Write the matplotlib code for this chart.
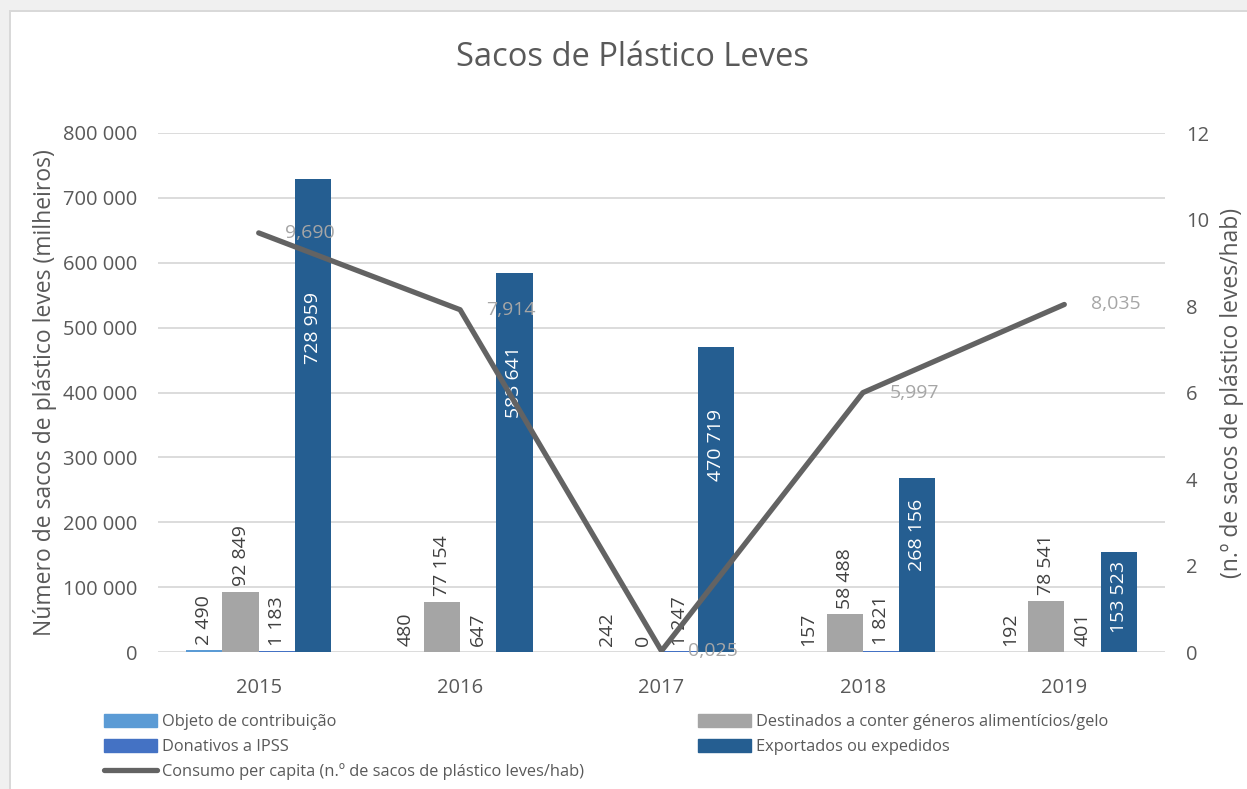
import numpy as np
import matplotlib
matplotlib.use("Agg")
import matplotlib.pyplot as plt
from matplotlib.patches import Rectangle
from matplotlib.lines import Line2D
from matplotlib.ticker import FuncFormatter

plt.rcParams["font.family"] = ["Open Sans", "DejaVu Sans"]

# data
years = ["2015", "2016", "2017", "2018", "2019"]
objeto = [2490, 480, 242, 157, 192]
destinados = [92849, 77154, 0, 58488, 78541]
donativos = [1183, 647, 1247, 1821, 401]
exportados = [728959, 583641, 470719, 268156, 153523]
consumo = [9.690, 7.914, 0.025, 5.997, 8.035]

# where Excel put the labels inside the dark bars (centre, axis units)
exp_label_at = [499000, 416000, 319000, 180000, 85000]

series = [
    ("Objeto de contribuição", objeto, "#5b9bd5"),
    ("Destinados a conter géneros alimentícios/gelo", destinados, "#a5a5a5"),
    ("Donativos a IPSS", donativos, "#4472c4"),
    ("Exportados ou expedidos", exportados, "#255e91"),
]
line_label = "Consumo per capita (n.º de sacos de plástico leves/hab)"
right_label = "(n.º de sacos de plástico leves/hab)"

txt = "#595959"
W, H = 1247, 789
fig = plt.figure(figsize=(W / 100, H / 100), dpi=100)

# window frame (grey margin top/left)
fig.patches.append(Rectangle((0, 1 - 10 / H), 1, 10 / H, transform=fig.transFigure,
                             facecolor="#f0f0f0", edgecolor="none", zorder=0))
fig.patches.append(Rectangle((0, 0), 9 / W, 1, transform=fig.transFigure,
                             facecolor="#f0f0f0", edgecolor="none", zorder=0))
fig.patches.append(Rectangle((9 / W, 0), 2 / W, 1 - 10 / H, transform=fig.transFigure,
                             facecolor="#d9d9d9", edgecolor="none", zorder=0))
fig.patches.append(Rectangle((9 / W, 1 - 12 / H), 1, 2 / H, transform=fig.transFigure,
                             facecolor="#d9d9d9", edgecolor="none", zorder=0))

ax = fig.add_axes([158 / W, 1 - 652 / H, (1165 - 158) / W, (652 - 133) / H])
ax2 = ax.twinx()

x = np.arange(len(years))
bw = 0.18
for i, (name, vals, col) in enumerate(series):
    pos = x + (i - 1.5) * bw
    ax.bar(pos, vals, bw, color=col, label=name, zorder=2)
    for j, (px, v) in enumerate(zip(pos, vals)):
        lab = f"{v:,}".replace(",", " ")
        if name.startswith("Exportados"):
            ax.text(px, exp_label_at[j], lab, rotation=90, ha="center", va="center",
                    color="white", fontsize=14, zorder=6)
        else:
            ax.annotate(lab, (px, v), xytext=(0, 4), textcoords="offset points",
                        rotation=90, ha="center", va="bottom", color="#404040", fontsize=14)

ax.set_xlim(-0.5, len(years) - 0.5)
ax.set_ylim(0, 800000)
ax.set_yticks(np.arange(0, 800001, 100000))
ax.yaxis.set_major_formatter(FuncFormatter(lambda v, p: f"{int(v):,}".replace(",", " ")))
ax.set_xticks(x)
ax.set_xticklabels(years)
ax.grid(axis="y", color="#d9d9d9", linewidth=1.3, zorder=0)
ax.set_axisbelow(True)
for sp in ax.spines.values():
    sp.set_visible(False)
for sp in ax2.spines.values():
    sp.set_visible(False)
ax.tick_params(axis="both", length=0, labelsize=14.5, colors=txt)
ax.tick_params(axis="x", pad=19)
ax.tick_params(axis="y", pad=15)
ax.set_ylabel("Número de sacos de plástico leves (milheiros)", fontsize=16.5, color=txt, labelpad=4)

ax2.plot(x, consumo, color="#636363", linewidth=3.8, solid_capstyle="round", zorder=5)
for px, v in zip(x, consumo):
    ax2.annotate(f"{v:.3f}".replace(".", ","), (px, v), xytext=(19, 0), textcoords="offset points",
                 ha="left", va="center", color="#a6a6a6", fontsize=14, zorder=7)
ax2.set_ylim(0, 12)
ax2.set_yticks(np.arange(0, 13, 2))
ax2.tick_params(axis="y", length=0, labelsize=14.5, colors=txt, pad=15)
ax2.set_ylabel(right_label, fontsize=16.5, color=txt, labelpad=8)
ax2.set_zorder(2)
ax.set_zorder(1)
ax2.patch.set_visible(False)
ax.patch.set_facecolor("white")

fig.text(633 / W, 1 - 57 / H, "Sacos de Plástico Leves", ha="center", va="center",
         fontsize=23.5, color=txt)

leg_kw = dict(loc="upper left", frameon=False, fontsize=11.8, labelcolor=txt,
              handlelength=3.2, handleheight=0.85, handletextpad=0.3,
              labelspacing=0.5, borderpad=0)
h_obj = Rectangle((0, 0), 1, 1, color=series[0][2])
h_don = Rectangle((0, 0), 1, 1, color=series[2][2])
h_line = Line2D([], [], color="#636363", linewidth=3.8, solid_capstyle="round")
h_des = Rectangle((0, 0), 1, 1, color=series[1][2])
h_exp = Rectangle((0, 0), 1, 1, color=series[3][2])
fig.legend([h_obj, h_don, h_line], [series[0][0], series[2][0], line_label],
           bbox_to_anchor=(96 / W, 1 - 706 / H), **leg_kw)
fig.legend([h_des, h_exp], [series[1][0], series[3][0]],
           bbox_to_anchor=(690 / W, 1 - 706 / H), **leg_kw)

fig.savefig("out.png", dpi=100, facecolor="white")
